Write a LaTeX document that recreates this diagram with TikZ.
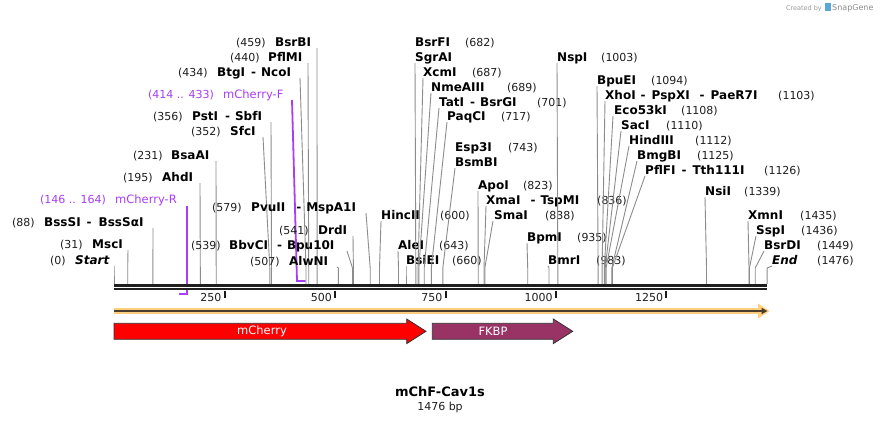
\documentclass[tikz,border=0pt]{standalone}
\usepackage{fontspec}
\setmainfont{DejaVu Sans}
\usetikzlibrary{arrows.meta}
\definecolor{primc}{RGB}{168,62,245}
\definecolor{sitec}{RGB}{140,140,140}
\definecolor{orangeL}{RGB}{255,207,127}
\definecolor{darkln}{RGB}{75,62,45}
\definecolor{fkbpc}{RGB}{153,51,102}
\definecolor{numc}{RGB}{30,30,30}
\newcommand{\dsh}[2]{\hspace{#1pt}-\hspace{#2pt}}
% left/right label: id, y, x1, text1, x2, text2, topx, sitex
\newcommand{\Lb}[8]{%
  \node[numt] (#1n) at (#3,#2+4) {#4};
  \node[namet] (#1) at (#5,#2+4) {#6};
  \coordinate (#1t) at (#7,#2+6);
  \coordinate (#1b) at (#8,268);
  \coordinate (#1s) at (#8,284);
  \draw[siteln] (#1t) -- (#1b) -- (#1s);
}
\newcommand{\Rb}[8]{%
  \node[namet] (#1) at (#3,#2+4) {#4};
  \node[numt] (#1n) at (#5,#2+4) {#6};
  \coordinate (#1t) at (#7,#2+6);
  \coordinate (#1b) at (#8,268);
  \coordinate (#1s) at (#8,284);
  \draw[siteln] (#1t) -- (#1b) -- (#1s);
}
\begin{document}
\begin{tikzpicture}[x=1pt,y=-1pt,
  numt/.style={anchor=base west, inner sep=0, text=numc, font=\fontsize{11}{13}\selectfont},
  namet/.style={anchor=base west, inner sep=0, text=black, font=\fontsize{12}{14}\selectfont\bfseries},
  primt/.style={anchor=base west, inner sep=0, text=primc, font=\fontsize{11.5}{13}\selectfont},
  siteln/.style={draw=sitec, line width=0.9pt},
  primln/.style={draw=primc, line width=1.8pt},
  tickt/.style={anchor=east, inner sep=0, text=numc, font=\fontsize{11}{13}\selectfont},
  tick/.style={draw=black!90, line width=2pt},
  feat/.style={draw=black!80, line width=0.8pt},
  feattxt/.style={inner sep=0, text=white, font=\fontsize{11.5}{13}\selectfont}]
\useasboundingbox (0,0) rectangle (882,423);
\fill[white] (0,0) rectangle (882,423);

% watermark
\node[anchor=base east, inner sep=0, text=black!40, font=\fontsize{6.5}{8}\selectfont] (cb) at (822,10) {Created by};
\fill[RGB/.cd] [fill={rgb,255:red,90;green,167;blue,216}] (824.5,3) rectangle (831,11);
\node[anchor=base west, inner sep=0, text=black!45, font=\fontsize{8}{9}\selectfont] (sg) at (832,10.5) {SnapGene};

% primers
\node[numt, text=primc] (pfn) at (148,98) {(414 .. 433)};
\node[primt] (pf) at (223,98) {mCherry-F};
\coordinate (pft) at (292,100);
\coordinate (pfb) at (297,281);
\coordinate (pfe) at (305.6,281);
\draw[primln] (pft) -- (pfb) -- (pfe);
\node[numt, text=primc] (prn) at (40,203) {(146 .. 164)};
\node[primt] (pr) at (115,203) {mCherry-R};
\coordinate (prt) at (186.6,206);
\coordinate (prb) at (186.6,294);
\coordinate (pre) at (178.6,294);
\draw[primln] (prt) -- (prb) -- (pre);

% left-side labels
\Lb{bsrbi}{42}{236}{(459)}{275}{BsrBI}{317}{317.1}
\Lb{pflmi}{57}{230}{(440)}{268}{PflMI}{308}{308.7}
\Lb{ncoi}{72}{178}{(434)}{217}{BtgI\dsh{6}{5}NcoI}{300}{306.0}
\Lb{psti}{116}{153}{(356)}{192}{PstI\dsh{7}{5}SbfI}{271}{271.5}
\Lb{sfci}{131}{191}{(352)}{230}{SfcI}{263}{269.8}
\Lb{bsaai}{155}{133}{(231)}{171}{BsaAI}{216}{216.2}
\Lb{ahdi}{177}{123}{(195)}{162}{AhdI}{200}{200.3}
\Lb{bsssi}{222}{12}{(88)}{44}{BssSI\dsh{6}{7}BssSαI}{153}{152.9}
\Lb{msci}{244}{60}{(31)}{92}{MscI}{128}{127.7}
\Lb{start}{260}{50}{(0)}{75}{\itshape Start}{114}{114}
\Lb{pvuii}{207}{212}{(579)}{251}{PvuII\dsh{11}{5}MspA1I}{366}{370.2}
\Lb{drdi}{230}{279}{(541)}{318}{DrdI}{353}{353.4}
\Lb{bbvci}{245}{191}{(539)}{229}{BbvCI\dsh{9}{5}Bpu10I}{347}{352.5}
\Lb{alwni}{261}{250}{(507)}{289}{AlwNI}{337}{338.3}

% right-side labels
\Rb{hincii}{215}{381}{HincII}{440}{(600)}{381}{379.5}
\Rb{alei}{245}{398}{AleI}{439}{(643)}{398}{398.5}
\Rb{bsiei}{260}{406}{BsiEI}{452}{(660)}{406}{406}
\node[namet] (bsrfi) at (415,46) {BsrFI};
\node[numt] (bsrfin) at (465,46) {(682)};
\Rb{sgrai}{57}{415}{SgrAI}{465}{}{415}{415.8}
\Rb{xcmi}{72}{423}{XcmI}{472}{(687)}{423}{418.0}
\Rb{nmeaiii}{87}{431}{NmeAIII}{507}{(689)}{431}{418.9}
\Rb{tati}{102}{439}{TatI\dsh{6}{5}BsrGI}{537}{(701)}{439}{424.2}
\Rb{paqci}{116}{447}{PaqCI}{501}{(717)}{447}{431.3}
\node[namet] (esp3i) at (455,151) {Esp3I};
\node[numt] (esp3in) at (508,151) {(743)};
\Rb{bsmbi}{162}{455}{BsmBI}{508}{}{455}{442.8}
\Rb{apoi}{185}{478}{ApoI}{523}{(823)}{478}{478.2}
\Rb{xmai}{200}{486}{XmaI\dsh{10}{5}TspMI}{597}{(836)}{486}{484.0}
\Rb{smai}{215}{494}{SmaI}{545}{(838)}{493}{484.8}
\Rb{bpmi}{237}{527}{BpmI}{577}{(935)}{527}{527.7}
\Rb{bmri}{260}{548}{BmrI}{596}{(983)}{548}{549.0}
\Rb{nspi}{57}{557}{NspI}{601}{(1003)}{557}{557.8}
\Rb{bpuei}{80}{597}{BpuEI}{651}{(1094)}{597}{598.1}
\Rb{xhoi}{95}{605}{XhoI\dsh{5}{6}PspXI\dsh{10}{6}PaeR7I}{778}{(1103)}{605}{602.1}
\Rb{ecoki}{110}{614}{Eco53kI}{681}{(1108)}{613}{604.3}
\Rb{saci}{125}{621}{SacI}{666}{(1110)}{621}{605.2}
\Rb{hindiii}{140}{629}{HindIII}{695}{(1112)}{629}{606.1}
\Rb{bmgbi}{155}{637}{BmgBI}{697}{(1125)}{637}{611.8}
\Rb{pflfi}{170}{645}{PflFI\dsh{6}{6}Tth111I}{764}{(1126)}{645}{612.3}
\Rb{nsii}{191}{705}{NsiI}{744}{(1339)}{705}{706.5}
\Rb{xmni}{215}{748}{XmnI}{800}{(1435)}{748}{749.0}
\Rb{sspi}{230}{756}{SspI}{801}{(1436)}{756}{749.4}
\Rb{bsrdi}{245}{764}{BsrDI}{817}{(1449)}{764}{755.2}
\Rb{endl}{260}{772}{\itshape End}{817}{(1476)}{772}{767.1}

% backbone
\fill[black!88] (114,284) rectangle (767,290.2);
\draw[white, line width=0.8pt] (114,287.1) -- (767,287.1);

% ticks
\foreach \t/\x/\nm in {250/224.5/t1,500/335/t2,750/445.5/t3,1000/555.8/t4,1250/666.4/t5}{
  \coordinate (\nm a) at (\x,290.5);
  \coordinate (\nm b) at (\x,297.5);
  \draw[tick] (\nm a) -- (\nm b);
  \node[tickt] (\nm l) at (\x-3,297) {\t};
}

% orange line
\coordinate (oa) at (114,311);
\coordinate (ob) at (763,311);
\coordinate (oc) at (767.5,311);
\draw[orangeL, line width=5.5pt] (oa) -- (ob);
\fill[orangeL] (758,303.5) -- (769.5,311) -- (758,318.5) -- cycle;
\draw[darkln, line width=1.8pt, -{Triangle[length=6pt,width=6pt]}] (oa) -- (oc);

% features
\draw[feat, fill=red] (114,323.3) -- (406.7,323.3) -- (406.7,319) -- (426,331.3) -- (406.7,343.6) -- (406.7,339.3) -- (114,339.3) -- cycle;
\node[feattxt] (mch) at (262,331.3) {mCherry};
\draw[feat, fill=fkbpc] (432.3,323.3) -- (553.3,323.3) -- (553.3,319) -- (572.7,331.3) -- (553.3,343.6) -- (553.3,339.3) -- (432.3,339.3) -- cycle;
\node[feattxt] (fkbp) at (493,331.3) {FKBP};

% title
\node[inner sep=0, font=\fontsize{13}{15}\selectfont\bfseries] (title) at (440,392) {mChF-Cav1s};
\node[inner sep=0, text=numc, font=\fontsize{11}{13}\selectfont] (len) at (440,407) {1476 bp};
\end{tikzpicture}
\end{document}
